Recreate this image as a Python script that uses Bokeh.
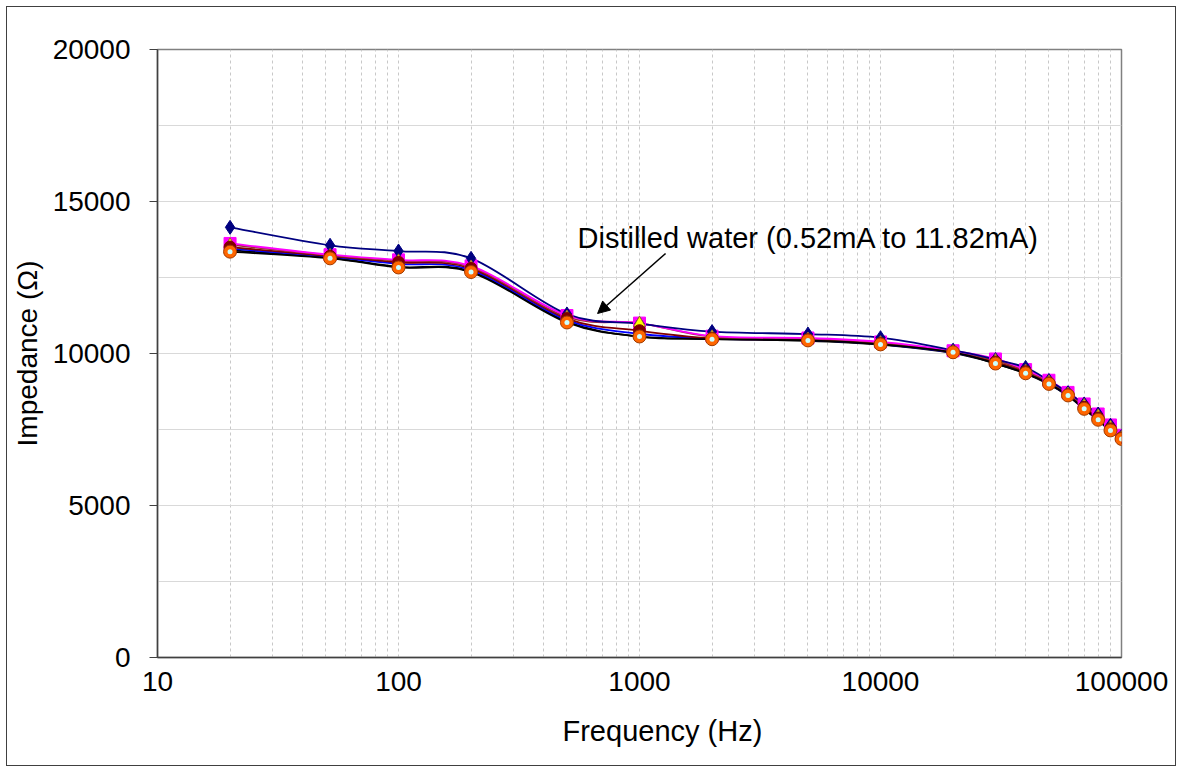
import numpy as np
from bokeh.plotting import figure
from bokeh.models import (ColumnDataSource, FixedTicker, SingleIntervalTicker, NumeralTickFormatter,
                          Label, Arrow, NormalHead, Title)
from bokeh.embed import file_html
from bokeh.resources import INLINE

freq = [20, 52, 100, 200, 500, 1000, 2000, 5000, 10000, 20000, 30000, 40000, 50000,
        60000, 70000, 80000, 90000, 100000]

z_navy = [14150, 13560, 13370, 13130, 11300, 10980, 10720, 10640, 10520, 10110, 9800, 9540, 9110, 8710, 8340, 8010, 7640, 7270]
z_magenta = [13620, 13250, 13080, 12880, 11250, 11000, 10570, 10510, 10380, 10090, 9820, 9470, 9120, 8720, 8340, 8010, 7650, 7310]
z_yellow = [13580, 13230, 13050, 12850, 11200, 11000, 10550, 10480, 10360, 10060, 9770, 9430, 9070, 8670, 8290, 7950, 7580, 7240]
z_maroon = [13500, 13200, 13000, 12800, 11150, 10750, 10500, 10450, 10330, 10040, 9720, 9400, 9030, 8640, 8230, 7880, 7520, 7220]
z_blue = [13450, 13180, 12950, 12750, 11100, 10650, 10490, 10440, 10310, 10030, 9700, 9380, 9010, 8620, 8200, 7830, 7480, 7190]
z_black = [13400, 13150, 12850, 12700, 11050, 10550, 10480, 10420, 10290, 10010, 9670, 9340, 8990, 8600, 8170, 7800, 7450, 7170]
z_orange = [13350, 13130, 12830, 12680, 11020, 10560, 10470, 10430, 10300, 10040, 9670, 9350, 9000, 8620, 8180, 7820, 7470, 7190]

y_ticks = [0, 5000, 10000, 15000, 20000]
x_ticks = [10, 100, 1000, 10000, 100000]

annot_text = "Distilled water (0.52mA to 11.82mA)"
FONT = "Liberation Sans"


def smooth_source(xs, ys):
    lx = np.log10(np.asarray(xs, float))
    y = np.asarray(ys, float)
    n = len(lx)
    d = dict(x0=[], y0=[], x1=[], y1=[], cx0=[], cy0=[], cx1=[], cy1=[])
    for i in range(n - 1):
        i0 = max(i - 1, 0)
        i3 = min(i + 2, n - 1)
        c1x = lx[i] + (lx[i + 1] - lx[i0]) / 6.0
        c1y = y[i] + (y[i + 1] - y[i0]) / 6.0
        c2x = lx[i + 1] - (lx[i3] - lx[i]) / 6.0
        c2y = y[i + 1] - (y[i3] - y[i]) / 6.0
        d["x0"].append(10 ** lx[i]); d["y0"].append(y[i])
        d["x1"].append(10 ** lx[i + 1]); d["y1"].append(y[i + 1])
        d["cx0"].append(10 ** c1x); d["cy0"].append(c1y)
        d["cx1"].append(10 ** c2x); d["cy1"].append(c2y)
    return ColumnDataSource(d)


p = figure(width=1168, height=758, x_axis_type="log", x_range=(10, 100000), y_range=(0, 20000),
           output_backend="svg", toolbar_location=None,
           min_border_left=150, min_border_right=54, min_border_top=42, min_border_bottom=108)
p.margin = (7, 7, 7, 7)
p.styles = {"outline": "1px solid #404040"}
p.background_fill_color = "white"
p.border_fill_color = "white"
p.outline_line_color = "#808080"
p.outline_line_width = 1.5

# axes
minor = [m * 10 ** e for e in range(1, 5) for m in range(2, 10)]
xt = FixedTicker(ticks=x_ticks, minor_ticks=minor)
p.xaxis.ticker = xt
p.xaxis.formatter = NumeralTickFormatter(format="0")
p.yaxis.ticker = FixedTicker(ticks=y_ticks)
p.yaxis.formatter = NumeralTickFormatter(format="0")
for ax in (p.xaxis, p.yaxis):
    ax.axis_line_color = "#404040"
    ax.axis_line_width = 1.5
    ax.major_label_text_font = FONT
    ax.major_label_text_font_size = "28px"
    ax.major_label_text_color = "black"
    ax.minor_tick_out = 0
    ax.minor_tick_in = 0
    ax.major_tick_in = 0
    ax.major_tick_line_color = "#404040"
p.yaxis.major_tick_out = 8
p.yaxis.major_label_standoff = 19
p.xaxis.major_tick_out = 0
p.xaxis.major_label_standoff = 14

p.yaxis.axis_label = "Impedance (Ω)"
p.yaxis.axis_label_text_font = FONT
p.yaxis.axis_label_text_font_size = "28px"
p.yaxis.axis_label_text_font_style = "normal"
p.yaxis.axis_label_text_color = "black"
p.yaxis.axis_label_standoff = 7

# grids
p.ygrid.ticker = SingleIntervalTicker(interval=2500)
p.ygrid.grid_line_color = "#D9D9D9"
p.ygrid.grid_line_width = 1
p.xgrid.ticker = xt
p.xgrid.grid_line_color = "#C8C8C8"
p.xgrid.grid_line_dash = "3 3"
p.xgrid.minor_grid_line_color = "#C8C8C8"
p.xgrid.minor_grid_line_dash = "3 3"

# lines (smooth)
line_specs = [
    (z_black, "#000000"),
    (z_blue, "#0000FF"),
    (z_maroon, "#800000"),
    (z_yellow, "#993333"),
    (z_magenta, "#FF00FF"),
    (z_orange, "#000000"),
    (z_navy, "#000080"),
]
for ys, col in line_specs:
    p.bezier(x0="x0", y0="y0", x1="x1", y1="y1", cx0="cx0", cy0="cy0", cx1="cx1", cy1="cy1",
             source=smooth_source(freq, ys), line_color=col, line_width=1.8)

# markers
p.scatter(freq, z_magenta, marker="square", size=12, fill_color="#FF00FF", line_color="#FF00FF")
p.scatter(freq, z_navy, marker="diamond", size=14, fill_color="#000080", line_color="#000080")
p.scatter(freq, z_yellow, marker="triangle", size=12, fill_color="#FFFF00", line_color="#996633")
p.scatter(freq, z_maroon, marker="circle", size=12, fill_color="#800000", line_color="#800000")
p.scatter(freq, z_orange, marker="circle", size=13, fill_color="#FF6600", line_color="#A03C00")
p.scatter(freq, z_orange, marker="circle", size=5, fill_color="#CCFFFF", line_color=None)

# annotation
p.add_layout(Label(x=553, y=13783, text=annot_text, text_font=FONT, text_font_size="29px",
                   text_baseline="middle", text_align="left", text_color="black"))
p.add_layout(Arrow(end=NormalHead(size=12, fill_color="black", line_color="black"),
                   x_start=1283, y_start=13290, x_end=670, y_end=11316,
                   line_color="black", line_width=1.5))

# x-axis title (placed right of centre like the original)
p.add_layout(Title(text="Frequency (Hz)", align="left", offset=405, standoff=38,
                   text_font=FONT, text_font_size="29px", text_font_style="normal",
                   text_color="black"), "below")

open("out.html", "w").write(file_html(p, INLINE))
